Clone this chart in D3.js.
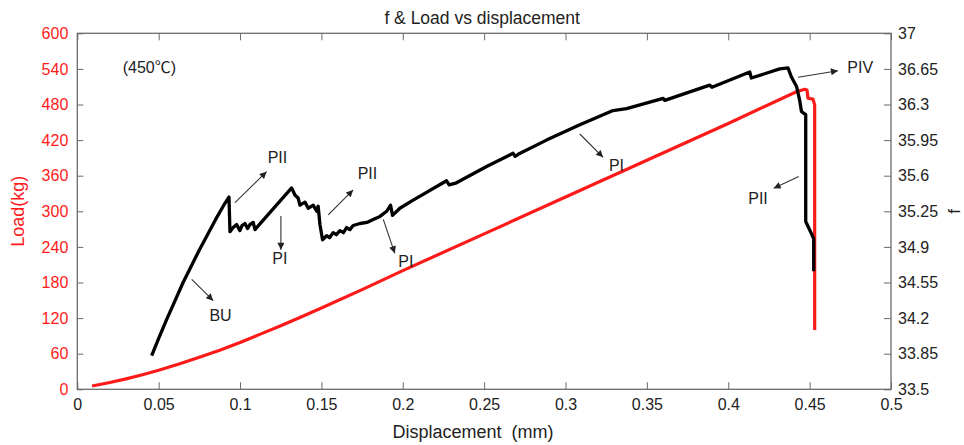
<!DOCTYPE html>
<html>
<head>
<meta charset="utf-8">
<script src="https://cdn.jsdelivr.net/npm/d3@7"></script>
<style>
  body { margin: 0; background: #fff; }
  svg { display: block; font-family: "Liberation Sans", Arial, "Noto Sans CJK SC", sans-serif; }
</style>
</head>
<body>
<svg id="chart" width="964" height="445"></svg>
<script>
// displacement (mm) vs load (kg), left axis
const loadData = [
    [0.0091, 5.6], [0.02, 11.5], [0.03, 17.5], [0.04, 24.5], [0.05, 32], [0.0625, 42.5],
    [0.075, 54], [0.0875, 66], [0.1, 79], [0.1125, 93], [0.125, 107], [0.1375, 122],
    [0.15, 137], [0.175, 168], [0.2, 200], [0.25, 262], [0.3, 324], [0.35, 386],
    [0.4, 448], [0.4419, 501.6], [0.447, 505.6], [0.4484, 504.5], [0.449, 490.5],
    [0.4521, 489], [0.4531, 479], [0.4531, 100]
];

// displacement (mm) vs f, right axis
const fData = [
    [0.0457, 33.83], [0.0500, 34.00], [0.0550, 34.19], [0.0600, 34.37], [0.0650, 34.55],
    [0.0700, 34.71], [0.0750, 34.87], [0.0800, 35.02], [0.0850, 35.17], [0.0900, 35.31],
    [0.0932, 35.39],
    [0.0938, 35.05], [0.0958, 35.09],
    [0.0979, 35.12], [0.0999, 35.06], [0.1012, 35.11], [0.1030, 35.13], [0.1046, 35.08],
    [0.1061, 35.12], [0.1081, 35.14], [0.1092, 35.07], [0.1102, 35.09], [0.1317, 35.48],
    [0.1337, 35.41], [0.1357, 35.38], [0.1368, 35.31], [0.1399, 35.34], [0.1419, 35.28],
    [0.1450, 35.31], [0.1471, 35.25], [0.1480, 35.30], [0.1491, 35.12], [0.1507, 34.97],
    [0.1532, 35.01], [0.1550, 34.99], [0.1572, 35.04], [0.1592, 35.02], [0.1614, 35.06],
    [0.1635, 35.04], [0.1655, 35.09], [0.1675, 35.07], [0.1695, 35.11], [0.1737, 35.13],
    [0.1780, 35.14], [0.1818, 35.17], [0.1860, 35.20], [0.1901, 35.25], [0.1925, 35.31],
    [0.1937, 35.21], [0.1982, 35.28], [0.2064, 35.36], [0.2269, 35.55], [0.2285, 35.51],
    [0.2330, 35.53], [0.2515, 35.69], [0.2678, 35.82], [0.2690, 35.79], [0.2709, 35.81],
    [0.2883, 35.95], [0.3088, 36.10], [0.3292, 36.24], [0.3375, 36.26], [0.3600, 36.36],
    [0.3610, 36.34], [0.3886, 36.49], [0.3900, 36.47], [0.4132, 36.62], [0.4142, 36.56],
    [0.4316, 36.65], [0.4367, 36.66], [0.4388, 36.57], [0.4419, 36.48], [0.4439, 36.34],
    [0.4450, 36.23], [0.4476, 36.20], [0.4476, 35.15], [0.4511, 35.03], [0.4525, 34.98],
    [0.4525, 34.66]
];

const xTicks = [0, 0.05, 0.1, 0.15, 0.2, 0.25, 0.3, 0.35, 0.4, 0.45, 0.5];
const loadTicks = [0, 60, 120, 180, 240, 300, 360, 420, 480, 540, 600];
const fTicks = [33.5, 33.85, 34.2, 34.55, 34.9, 35.25, 35.6, 35.95, 36.3, 36.65, 37];

// annotations in displacement / load units: label point, arrow from, arrow to
const notes = [
    { text: "PII", at: [0.1230, 392],   from: [0.0969, 314.5], to: [0.1163, 366.8] },
    { text: "PI",  at: [0.1245, 221],   from: [0.1251, 292],   to: [0.1251, 235] },
    { text: "PII", at: [0.1783, 364.5], from: [0.1542, 293.8], to: [0.1695, 336] },
    { text: "PI",  at: [0.2019, 216],   from: [0.1880, 286.4], to: [0.1951, 229.2] },
    { text: "BU",  at: [0.0880, 124.4], from: [0.0703, 185.4], to: [0.0835, 149.3] },
    { text: "PI",  at: [0.3313, 378],   from: [0.3088, 430.3], to: [0.3231, 391] },
    { text: "PIV", at: [0.4811, 543.7], from: [0.4429, 525.9], to: [0.4674, 537] },
    { text: "PII", at: [0.4183, 322.4], from: [0.4433, 358.5], to: [0.4279, 338.8] }
];
const tempNote = { text: "(450\u2103)", at: [0.0279, 541] };

const W = 964, H = 445;
const m = { top: 33.3, right: 73, bottom: 55.7, left: 77.3 };
const w = W - m.left - m.right;
const h = H - m.top - m.bottom;

const svg = d3.select("#chart");
const g = svg.append("g").attr("transform", `translate(${m.left},${m.top})`);

const x = d3.scaleLinear().domain([0, 0.5]).range([0, w]);
const yL = d3.scaleLinear().domain([0, 600]).range([h, 0]);
const yR = d3.scaleLinear().domain([33.5, 37]).range([h, 0]);

const axisCol = "#6a6a6a";
const red = "#ff1a1a";

function styleAxis(sel, textCol) {
    sel.select(".domain").remove();
    sel.selectAll("line").attr("stroke", axisCol).attr("stroke-width", 1);
    sel.selectAll("text").attr("fill", textCol).attr("font-size", 16)
        .attr("font-family", "Liberation Sans, Arial, sans-serif");
}

// bottom
g.append("g").attr("transform", `translate(0,${h})`)
    .call(d3.axisBottom(x).tickValues(xTicks).tickFormat(d => String(+d.toFixed(2)))
        .tickSizeInner(-7).tickSizeOuter(0).tickPadding(9))
    .call(s => styleAxis(s, "#222"));
// top
g.append("g")
    .call(d3.axisTop(x).tickValues(xTicks).tickFormat("").tickSizeInner(-7).tickSizeOuter(0))
    .call(s => styleAxis(s, "#222"));
// left
g.append("g")
    .call(d3.axisLeft(yL).tickValues(loadTicks).tickSizeInner(-6).tickSizeOuter(0).tickPadding(9))
    .call(s => styleAxis(s, red));
// right
g.append("g").attr("transform", `translate(${w},0)`)
    .call(d3.axisRight(yR).tickValues(fTicks).tickFormat(d => String(+d.toFixed(2)))
        .tickSizeInner(-7).tickSizeOuter(0).tickPadding(7))
    .call(s => styleAxis(s, "#222"));

// frame
g.append("rect").attr("x", 0).attr("y", 0).attr("width", w).attr("height", h)
    .attr("fill", "none").attr("stroke", axisCol).attr("stroke-width", 1.3);

// series
g.append("path").datum(loadData)
    .attr("fill", "none").attr("stroke", red).attr("stroke-width", 3.2)
    .attr("stroke-linejoin", "round")
    .attr("d", d3.line().x(d => x(d[0])).y(d => yL(d[1])));

g.append("path").datum(fData)
    .attr("fill", "none").attr("stroke", "#000").attr("stroke-width", 3.3)
    .attr("stroke-linejoin", "round")
    .attr("d", d3.line().x(d => x(d[0])).y(d => yR(d[1])));

// arrows + labels
svg.append("defs").append("marker")
    .attr("id", "arr").attr("viewBox", "0 0 10 10")
    .attr("refX", 10).attr("refY", 5)
    .attr("markerUnits", "userSpaceOnUse")
    .attr("markerWidth", 10).attr("markerHeight", 7)
    .attr("orient", "auto")
    .append("path").attr("d", "M0,0 L10,5 L0,10 z").attr("fill", "#222");

notes.forEach(n => {
    g.append("line")
        .attr("x1", x(n.from[0])).attr("y1", yL(n.from[1]))
        .attr("x2", x(n.to[0])).attr("y2", yL(n.to[1]))
        .attr("stroke", "#333").attr("stroke-width", 1.1)
        .attr("marker-end", "url(#arr)");
    g.append("text")
        .attr("x", x(n.at[0])).attr("y", yL(n.at[1]) + 6)
        .attr("text-anchor", "middle").attr("font-size", 16).attr("fill", "#222")
        .text(n.text);
});

g.append("text")
    .attr("x", x(tempNote.at[0])).attr("y", yL(tempNote.at[1]) + 5)
    .attr("font-size", 16).attr("fill", "#222")
    .text(tempNote.text);

// titles
svg.append("text").attr("x", m.left + w / 2 - 2).attr("y", 24)
    .attr("text-anchor", "middle").attr("font-size", 17.5).attr("fill", "#222")
    .text("f & Load vs displacement");
svg.append("text").attr("x", 473).attr("y", 438)
    .attr("text-anchor", "middle").attr("font-size", 18).attr("fill", "#222")
    .attr("xml:space", "preserve")
    .text("Displacement  (mm)");
svg.append("text")
    .attr("transform", `translate(24,${m.top + h / 2}) rotate(-90)`)
    .attr("text-anchor", "middle").attr("font-size", 18).attr("fill", red)
    .text("Load(kg)");
svg.append("text")
    .attr("transform", `translate(960,${m.top + h / 2}) rotate(-90)`)
    .attr("text-anchor", "middle").attr("font-size", 17).attr("fill", "#222")
    .text("f");
</script>
</body>
</html>
